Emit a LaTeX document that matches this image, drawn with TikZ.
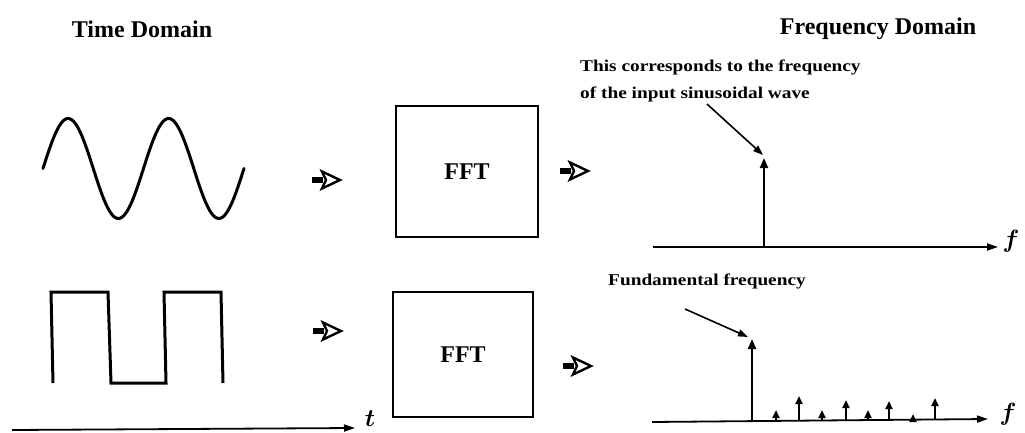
\documentclass[tikz,border=0pt]{standalone}
\usepackage{fontspec}
\setmainfont{Liberation Serif}
\usetikzlibrary{arrows.meta}
\tikzset{
  title/.style={font=\fontsize{24}{28}\selectfont\bfseries, inner sep=0pt, anchor=base},
  note/.style={font=\fontsize{16.5}{19}\selectfont\bfseries, inner sep=0pt, anchor=base west, xscale=1.17},
  box/.style={draw, line width=1.8pt, inner sep=0pt, font=\fontsize{24}{28}\selectfont\bfseries},
  wave/.style={line width=3pt, line join=round, line cap=round},
  axis/.style={line width=1.8pt, -{Triangle[length=11pt,width=7pt]}},
  spike/.style={line width=2.2pt, -{Triangle[length=10pt,width=8pt]}},
  small/.style={line width=2pt, -{Triangle[length=8pt,width=7pt]}},
  pointer/.style={line width=1.6pt, -{Triangle[length=10pt,width=7pt]}},
  axlabel/.style={font=\fontsize{25}{28}\selectfont\boldmath, inner sep=0pt},
  hollowarrow/.pic={
    \fill (-15,-3.2) rectangle (-4,3.2);
    \draw[line width=2.4pt, line join=miter] (-5,-8.5) -- (13,0) -- (-5,8.5) -- (-1,0) -- cycle;
  }
}
\begin{document}
\begin{tikzpicture}[x=1pt,y=-1pt]
\useasboundingbox (0,0) rectangle (1025,433);
% titles
\node[title] (tdom) at (142,38) {Time Domain};
\node[title] (fdom) at (878,35) {Frequency Domain};
% sine wave
\draw[wave] plot[domain=43:244, samples=120] (\x, {168.5-50*sin(3.5821*(\x-43))});
% square wave
\draw[wave, line cap=butt, line join=miter] (53,383) -- (51,292) -- (108,292) -- (111,383) -- (166,383) -- (164,292) -- (221,292) -- (223,383);
% time axis
\coordinate (t0) at (12,430);
\coordinate (t1) at (355,428);
\draw[axis] (t0) -- (t1);
\node[axlabel] (tlab) at (370,419) {$t$};
% hollow arrows
\pic at (327,180) {hollowarrow};
\pic at (575,171) {hollowarrow};
\pic at (328,331) {hollowarrow};
\pic at (578,366) {hollowarrow};
% FFT boxes
\node[box, minimum width=142pt, minimum height=131pt] (fft1) at (467,171.5) {FFT};
\node[box, minimum width=140pt, minimum height=125pt] (fft2) at (463,354.5) {FFT};
% top spectrum
\coordinate (fa0) at (653,247);
\coordinate (fa1) at (998,247);
\draw[axis] (fa0) -- (fa1);
\node[axlabel] (flab1) at (1011,241) {$f$};
\coordinate (s0) at (764,247);
\coordinate (s1) at (764,158);
\draw[spike] (s0) -- (s1);
\node[note] (note1) at (580,72) {This corresponds to the frequency};
\node[note] (note2) at (580,99) {of the input sinusoidal wave};
\coordinate (p1) at (707,104);
\coordinate (p1e) at (763,155);
\draw[pointer] (p1) -- (p1e);
% bottom spectrum
\coordinate (fb0) at (652,422);
\coordinate (fb1) at (988,419);
\draw[axis] (fb0) -- (fb1);
\node[axlabel] (flab2) at (1008,414) {$f$};
\coordinate (b0) at (752,422);
\coordinate (b1) at (752,339);
\draw[spike] (b0) -- (b1);
\foreach \xx/\yb/\yt in {776/421.5/410, 799/421.3/396, 822/421/410, 846/420.8/400, 868/420.6/410, 889/420.4/401, 913/420.2/414, 935/420/398}{
  \draw[small] (\xx,\yb) -- (\xx,\yt);
}
\node[note, xscale=1.0] (note3) at (608,285) {Fundamental frequency};
\coordinate (p2) at (685,309);
\coordinate (p2e) at (748,337);
\draw[pointer] (p2) -- (p2e);
\end{tikzpicture}
\end{document}
